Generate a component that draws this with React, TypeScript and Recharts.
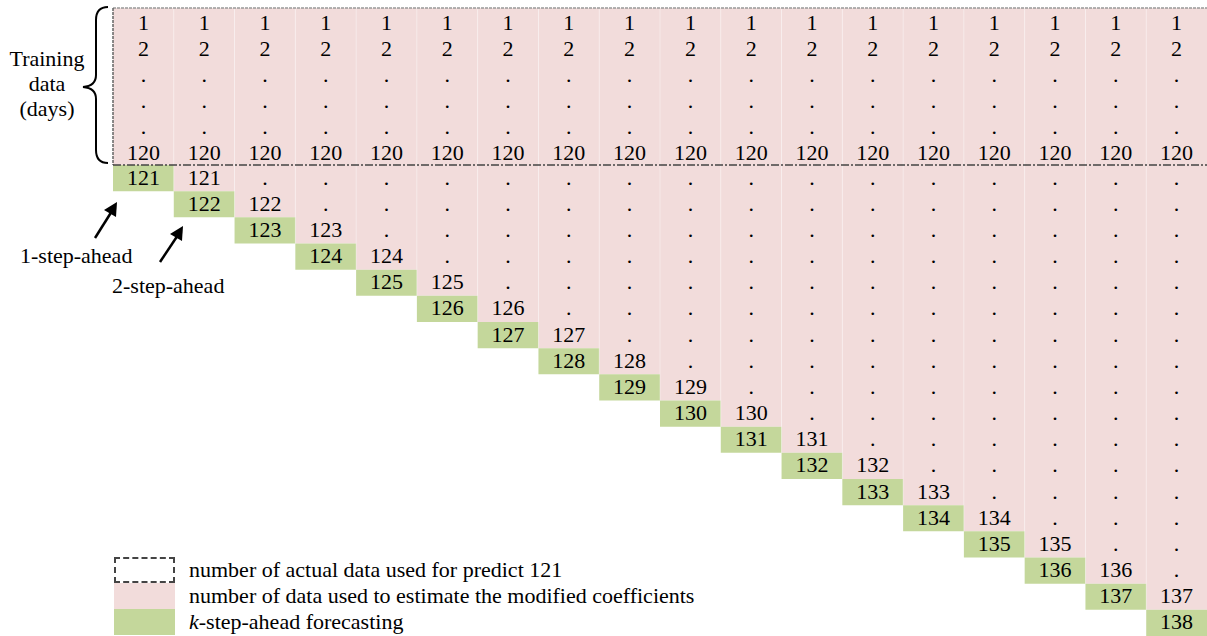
import React from "react";
import {
  ComposedChart,
  XAxis,
  YAxis,
  Scatter,
  ReferenceArea,
  ReferenceLine,
  Legend,
  Customized,
} from "recharts";

// ---- data ----
const trainingDays: string[] = ["1", "2", ".", ".", ".", "120"];
const forecastDays: number[] = [
  121, 122, 123, 124, 125, 126, 127, 128, 129, 130, 131, 132, 133, 134, 135, 136, 137, 138,
];
const legendLabels: string[] = [
  "number of actual data used for predict 121",
  "number of data used to estimate the modified coefficients",
  "-step-ahead forecasting",
];
const sideLabel: string[] = ["Training", "data", "(days)"];
const arrowLabels: string[] = ["1-step-ahead", "2-step-ahead"];

const PINK = "#F2DCDB";
const GREEN = "#C4D79B";
const FONT = "'Liberation Serif', 'Times New Roman', serif";
const W = 1207;
const H = 636;

const nCols = forecastDays.length;
const nTrain = trainingDays.length;

type Pt = { x: number; y: number; label: string; top: boolean };

const textPoints: Pt[] = [];
forecastDays.forEach((day, j) => {
  trainingDays.forEach((t, i) => textPoints.push({ x: j + 0.5, y: i + 0.5, label: t, top: true }));
  for (let i = 0; i < j; i++) {
    textPoints.push({
      x: j + 0.5,
      y: nTrain + i + 0.5,
      label: i === j - 1 ? String(forecastDays[i]) : ".",
      top: false,
    });
  }
  textPoints.push({ x: j + 0.5, y: nTrain + j + 0.5, label: String(day), top: false });
});

const TextShape = (p: any) => (
  <text
    x={p.cx}
    y={p.cy + (p.payload.top ? 1 : -1)}
    textAnchor="middle"
    dominantBaseline="central"
    fontFamily={FONT}
    fontSize={22}
    fill="#000"
  >
    {p.payload.label}
  </text>
);

const Annotations = () => (
  <g fontFamily={FONT} fontSize={22} fill="#000">
    {sideLabel.map((s, i) => (
      <text key={s} x={47} y={58 + i * 25} textAnchor="middle" dominantBaseline="central">
        {s}
      </text>
    ))}
    <path
      d="M108,7 Q96,7 96,20 L96,75 Q96,86 83,87 Q96,88 96,99 L96,150 Q96,163 108,163"
      fill="none"
      stroke="#000"
      strokeWidth={2}
    />
    <text x={20} y={263}>{arrowLabels[0]}</text>
    <text x={112} y={293}>{arrowLabels[1]}</text>
    <line x1={95} y1={238} x2={112} y2={211} stroke="#000" strokeWidth={2.5} />
    <path d="M117,202 L104,210 L116,217 z" fill="#000" />
    <line x1={160} y1={262} x2={178} y2={235} stroke="#000" strokeWidth={2.5} />
    <path d="M183,226 L170,234 L182,241 z" fill="#000" />
  </g>
);

const LegendContent = () => (
  <div style={{ fontFamily: FONT, fontSize: 22, color: "#000", lineHeight: "26px" }}>
    {legendLabels.map((l, i) => (
      <div key={i} style={{ display: "flex", alignItems: "center", height: 26 }}>
        <div
          style={{
            width: 61,
            height: 26,
            boxSizing: "border-box",
            background: i === 0 ? "#fff" : i === 1 ? PINK : GREEN,
            border: i === 0 ? "2px dashed #444" : "none",
          }}
        />
        <span style={{ marginLeft: 14, whiteSpace: "nowrap" }}>
          {i === 2 ? <i>k</i> : null}
          {l}
        </span>
      </div>
    ))}
  </div>
);

export default function App() {
  return (
    <div style={{ position: "absolute", left: 0, top: 0, background: "#fff" }}>
      <ComposedChart
        width={W}
        height={H}
        margin={{ top: 8, right: 0, bottom: 0, left: 113 }}
      >
        <XAxis type="number" dataKey="x" domain={[0, nCols]} hide allowDataOverflow />
        <YAxis type="number" dataKey="y" domain={[0, nTrain + nCols]} reversed hide allowDataOverflow />
        {forecastDays.map((d, j) => (
          <ReferenceArea
            key={"p" + d}
            x1={j}
            x2={j + 1}
            y1={0}
            y2={nTrain + j}
            fill={PINK}
            fillOpacity={1}
            stroke="none"
          />
        ))}
        {forecastDays.map((d, j) => (
          <ReferenceArea
            key={"g" + d}
            x1={j}
            x2={j + 1}
            y1={nTrain + j}
            y2={nTrain + j + 1}
            fill={GREEN}
            fillOpacity={1}
            stroke="none"
          />
        ))}
        {forecastDays.slice(1).map((d, k) => (
          <ReferenceLine
            key={"v" + d}
            segment={[
              { x: k + 1, y: 0 },
              { x: k + 1, y: nTrain + k + 1 },
            ]}
            stroke="#fff"
            strokeOpacity={0.35}
            strokeWidth={1}
          />
        ))}
        <ReferenceLine
          segment={[
            { x: 0, y: 0 },
            { x: nCols, y: 0 },
          ]}
          stroke="#999"
          strokeWidth={1.5}
          strokeDasharray="3 1"
        />
        <ReferenceLine
          segment={[
            { x: 0, y: 0 },
            { x: 0, y: nTrain },
          ]}
          stroke="#666"
          strokeWidth={1.5}
          strokeDasharray="3 1"
        />
        <ReferenceLine
          segment={[
            { x: 0, y: nTrain },
            { x: nCols, y: nTrain },
          ]}
          stroke="#444"
          strokeWidth={1.5}
          strokeDasharray="8 2 2 2"
        />
        <Scatter
          data={textPoints}
          dataKey="y"
          shape={TextShape}
          isAnimationActive={false}
        />
        <Legend
          layout="horizontal"
          verticalAlign="middle"
          align="center"
          content={LegendContent}
          wrapperStyle={{ position: "absolute", left: 114, top: 557, width: "auto", height: "auto" }}
        />
        <Customized component={Annotations} />
      </ComposedChart>
    </div>
  );
}
